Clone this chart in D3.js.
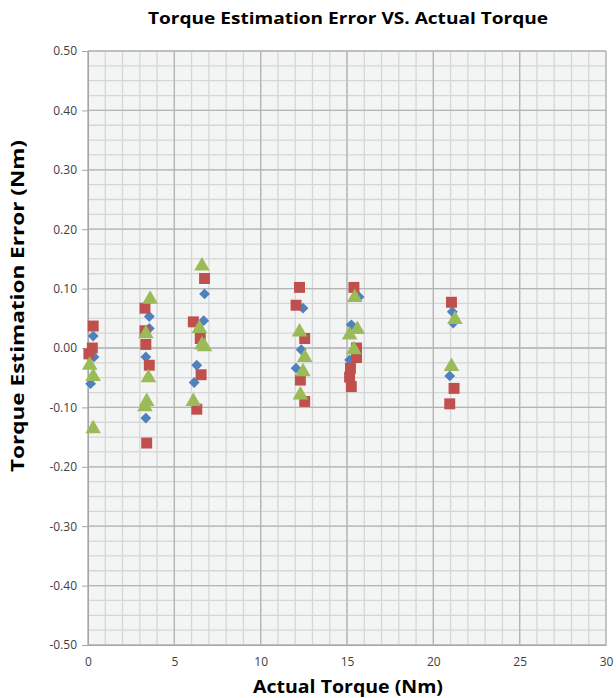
<!DOCTYPE html>
<html><head><meta charset="utf-8">
<script src="https://cdn.jsdelivr.net/npm/d3@7"></script>
<style>body{margin:0;background:#fff}svg{display:block}</style>
</head><body>
<script>
// Data
const xTicks = [0,5,10,15,20,25,30];
const yTicks = [-0.5,-0.4,-0.3,-0.2,-0.1,0,0.1,0.2,0.3,0.4,0.5];
const seriesNames = ["Series1","Series2","Series3"];
const series1 = [[0.15,-0.06],[0.3,0.02],[0.35,-0.015],
 [3.35,-0.118],[3.35,-0.015],[3.55,0.033],[3.55,0.053],
 [6.15,-0.058],[6.3,-0.029],[6.7,0.046],[6.75,0.091],
 [12.05,-0.034],[12.35,-0.003],[12.45,0.067],
 [15.15,-0.020],[15.25,0.039],[15.7,0.086],
 [20.95,-0.047],[21.1,0.061],[21.15,0.042]];
const series2 = [[0.05,-0.010],[0.25,0.0],[0.3,0.037],
 [3.3,0.067],[3.3,0.029],[3.35,0.006],[3.4,-0.160],[3.55,-0.029],
 [6.1,0.044],[6.3,-0.103],[6.5,0.016],[6.55,-0.045],[6.75,0.117],
 [12.05,0.072],[12.25,0.102],[12.3,-0.054],[12.55,0.016],[12.55,-0.090],
 [15.15,-0.049],[15.2,-0.034],[15.25,-0.065],[15.4,0.102],[15.55,0.0],[15.55,-0.016],
 [20.95,-0.094],[21.05,0.077],[21.2,-0.068]];
const series3 = [[0.1,-0.029],[0.3,-0.048],[0.3,-0.136],
 [3.35,0.024],[3.4,-0.09],[3.3,-0.099],[3.5,-0.050],[3.6,0.082],
 [6.1,-0.090],[6.45,0.033],[6.6,0.138],[6.6,0.005],[6.75,0.002],
 [12.25,0.027],[12.3,-0.079],[12.45,-0.040],[12.55,-0.016],
 [15.15,0.022],[15.4,-0.003],[15.45,0.085],[15.6,0.031],
 [21.05,-0.031],[21.25,0.048]];

const W=616,H=698;
const m={l:88,r:10,t:51,b:53};
const svg=d3.select("body").append("svg").attr("width",W).attr("height",H);
const x=d3.scaleLinear().domain([0,30]).range([m.l,W-m.r]);
const y=d3.scaleLinear().domain([-0.5,0.5]).range([H-m.b,m.t]);

svg.append("rect").attr("x",x(0)).attr("y",y(0.5)).attr("width",x(30)-x(0)).attr("height",y(-0.5)-y(0.5)).attr("fill","#f3f4f4");

const g=svg.append("g");
const xMinor=d3.range(0,31,1), yMinor=d3.range(-0.5,0.5001,0.025);
g.selectAll(".vx").data(xMinor).join("line").attr("x1",d=>x(d)).attr("x2",d=>x(d)).attr("y1",y(0.5)).attr("y2",y(-0.5)).attr("stroke","#d6d6d6").attr("stroke-width",1.3);
g.selectAll(".hy").data(yMinor).join("line").attr("y1",d=>y(d)).attr("y2",d=>y(d)).attr("x1",x(0)).attr("x2",x(30)).attr("stroke","#d6d6d6").attr("stroke-width",1.3);
g.selectAll(".vX").data(xTicks).join("line").attr("x1",d=>x(d)).attr("x2",d=>x(d)).attr("y1",y(0.5)).attr("y2",y(-0.5)).attr("stroke","#b4b4b4").attr("stroke-width",1.3);
g.selectAll(".hY").data(yTicks).join("line").attr("y1",d=>y(d)).attr("y2",d=>y(d)).attr("x1",x(0)).attr("x2",x(30)).attr("stroke","#b4b4b4").attr("stroke-width",1.3);

const fmt=d=>d3.format(".2f")(d).replace("\u2212","-");
const ya=svg.append("g").attr("transform",`translate(${x(0)},0)`).call(d3.axisLeft(y).tickValues(yTicks).tickFormat(fmt).tickSize(6).tickPadding(5));
ya.select(".domain").attr("stroke","#a6a6a6");
ya.selectAll(".tick line").attr("stroke","#a6a6a6");
ya.selectAll("text").attr("font-family","'Open Sans',sans-serif").attr("font-size",12).attr("fill","#404040");
const xa=svg.append("g").attr("transform",`translate(0,${y(-0.5)})`).call(d3.axisBottom(x).tickValues(xTicks).tickSize(0).tickPadding(12));
xa.select(".domain").attr("stroke","#a6a6a6");
xa.selectAll("text").attr("font-family","'Open Sans',sans-serif").attr("font-size",12).attr("fill","#404040");

const colors=["#4f81bd","#c0504d","#9bbb59"];
const shapes=[d3.symbolDiamond2,d3.symbolSquare,d3.symbolTriangle];
const sizes=[75,120,105];
[series1,series2,series3].forEach((s,i)=>{
  const sym=d3.symbol().type(shapes[i]).size(sizes[i]);
  svg.append("g").selectAll("path").data(s).join("path")
    .attr("transform",d=>`translate(${x(d[0])},${y(d[1])})`)
    .attr("d",sym).attr("fill",colors[i]);
});

svg.append("text").attr("x",348).attr("y",24).attr("text-anchor","middle")
 .attr("font-family","'Open Sans',sans-serif").attr("font-weight","bold").attr("font-size",16).attr("fill","#000")
 .attr("textLength",400).attr("lengthAdjust","spacingAndGlyphs")
 .text("Torque Estimation Error VS. Actual Torque");
svg.append("text").attr("x",348).attr("y",693).attr("text-anchor","middle")
 .attr("font-family","'Open Sans',sans-serif").attr("font-weight","bold").attr("font-size",17).attr("fill","#000")
 .attr("textLength",190).attr("lengthAdjust","spacingAndGlyphs")
 .text("Actual Torque (Nm)");
svg.append("text").attr("transform","translate(24,306) rotate(-90)").attr("text-anchor","middle")
 .attr("font-family","'Open Sans',sans-serif").attr("font-weight","bold").attr("font-size",18).attr("fill","#000")
 .attr("textLength",332).attr("lengthAdjust","spacingAndGlyphs")
 .text("Torque Estimation Error (Nm)");
</script>
</body></html>
